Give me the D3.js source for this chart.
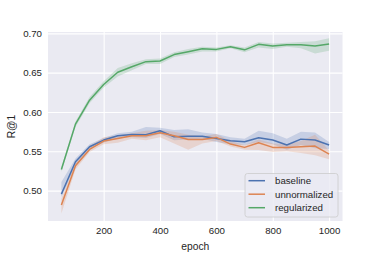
<!DOCTYPE html>
<html><head><meta charset="utf-8">
<script src="https://cdn.jsdelivr.net/npm/d3@7"></script>
<style>body{margin:0;background:#fff}svg{display:block}text{font-family:"Liberation Sans",Arial,sans-serif;fill:#262626}</style>
</head><body><svg id="c" width="381" height="254"></svg>
<script>
const epochs = [50,100,150,200,250,300,350,400,450,500,550,600,650,700,750,800,850,900,950,1000];
const baseline = [0.4956,0.5367,0.5558,0.5643,0.5698,0.5715,0.5711,0.5761,0.5685,0.5693,0.5693,0.5664,0.5634,0.5621,0.5672,0.5643,0.558,0.5655,0.5643,0.558];
const baselineLo = [0.492,0.532,0.553,0.561,0.567,0.568,0.567,0.572,0.564,0.565,0.566,0.562,0.559,0.558,0.562,0.559,0.552,0.558,0.554,0.553];
const baselineHi = [0.511,0.541,0.559,0.567,0.573,0.575,0.581,0.580,0.577,0.578,0.574,0.572,0.568,0.566,0.576,0.573,0.566,0.575,0.574,0.562];
const unnormalized = [0.4816,0.5316,0.5524,0.563,0.5664,0.5698,0.5698,0.5736,0.5698,0.565,0.565,0.5677,0.5592,0.555,0.5609,0.555,0.555,0.5558,0.5567,0.5465];
const unnormalizedLo = [0.471,0.527,0.549,0.559,0.561,0.566,0.564,0.568,0.560,0.552,0.560,0.563,0.556,0.552,0.5516,0.549,0.550,0.548,0.545,0.540];
const unnormalizedHi = [0.490,0.536,0.556,0.568,0.570,0.573,0.576,0.577,0.575,0.571,0.569,0.572,0.563,0.558,0.565,0.560,0.559,0.563,0.571,0.551];
const regularized = [0.527,0.5846,0.615,0.635,0.6505,0.6575,0.664,0.6648,0.673,0.6766,0.6804,0.6796,0.683,0.679,0.686,0.6838,0.6855,0.6855,0.684,0.6864];
const regularizedLo = [0.524,0.581,0.611,0.631,0.645,0.653,0.661,0.661,0.670,0.673,0.677,0.677,0.681,0.676,0.682,0.680,0.683,0.681,0.6745,0.678];
const regularizedHi = [0.530,0.588,0.619,0.639,0.656,0.662,0.667,0.668,0.676,0.680,0.683,0.682,0.685,0.682,0.689,0.687,0.688,0.689,0.690,0.6936];
const seriesNames = ["baseline","unnormalized","regularized"];
const colors = ["#4C72B0","#DD8452","#55A868"];
const xTicks = [200,400,600,800,1000];
const yTicks = [0.50,0.55,0.60,0.65,0.70];

const svg = d3.select("#c");
const L=48,R=342.5,T=32,B=221;
const x = d3.scaleLinear().domain([2.5,1047.5]).range([L,R]);
const y = d3.scaleLinear().domain([0.4614,0.7017]).range([B,T]);

svg.append("rect").attr("x",L).attr("y",T).attr("width",R-L).attr("height",B-T).attr("fill","#EAEAF2");
const gx = svg.append("g").attr("transform",`translate(0,${B})`).call(d3.axisBottom(x).tickValues(xTicks).tickSize(-(B-T)).tickPadding(6).tickFormat(d3.format("d")));
const gy = svg.append("g").attr("transform",`translate(${L},0)`).call(d3.axisLeft(y).tickValues(yTicks).tickSize(-(R-L)).tickPadding(6).tickFormat(d3.format(".2f")));
[gx,gy].forEach(g=>{g.select(".domain").remove();g.selectAll(".tick line").attr("stroke","#fff").attr("stroke-width",1.1);g.selectAll(".tick text").style("font-size","9.7px").attr("fill","#262626");});

const data = [[baseline,baselineLo,baselineHi],[unnormalized,unnormalizedLo,unnormalizedHi],[regularized,regularizedLo,regularizedHi]];
svg.append("clipPath").attr("id","cl").append("rect").attr("x",L).attr("y",T).attr("width",R-L).attr("height",B-T);
const plot = svg.append("g").attr("clip-path","url(#cl)");
data.forEach(([v,lo,hi],i)=>{
  const pts = epochs.map((ep,j)=>({ep,lo:lo[j],hi:hi[j]}));
  plot.append("path").datum(pts).attr("fill",colors[i]).attr("fill-opacity",0.22)
    .attr("d",d3.area().x(d=>x(d.ep)).y0(d=>y(d.lo)).y1(d=>y(d.hi)));
});
data.forEach(([v],i)=>{
  const pts = epochs.map((ep,j)=>({ep,v:v[j]}));
  plot.append("path").datum(pts).attr("fill","none").attr("stroke",colors[i]).attr("stroke-width",1.5).attr("stroke-linejoin","round")
    .attr("d",d3.line().x(d=>x(d.ep)).y(d=>y(d.v)));
});

svg.append("text").attr("x",(L+R)/2).attr("y",250).attr("text-anchor","middle").style("font-size","10.3px").text("epoch");
svg.append("text").attr("transform",`translate(15,${(T+B)/2}) rotate(-90)`).attr("text-anchor","middle").style("font-size","10.3px").text("R@1");

const lg = svg.append("g");
lg.append("rect").attr("x",245).attr("y",173.5).attr("width",93).attr("height",43.5).attr("rx",2.5)
  .attr("fill","#EAEAF2").attr("fill-opacity",0.8).attr("stroke","#cccccc").attr("stroke-width",0.8);
seriesNames.forEach((n,i)=>{
  const yy = 180.7 + i*13.5;
  lg.append("line").attr("x1",248.5).attr("x2",265).attr("y1",yy).attr("y2",yy).attr("stroke",colors[i]).attr("stroke-width",1.5);
  lg.append("text").attr("x",275).attr("y",yy).attr("dy","0.35em").style("font-size","9.7px").text(n);
});
</script></body></html>
